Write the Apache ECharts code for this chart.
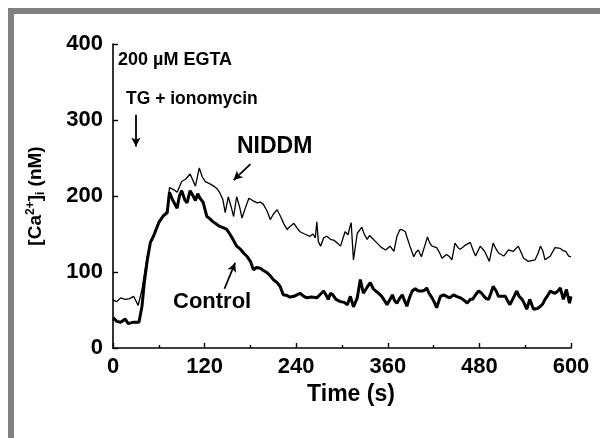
<!DOCTYPE html>
<html>
<head>
<meta charset="utf-8">
<script src="https://cdn.jsdelivr.net/npm/echarts@6/dist/echarts.min.js"></script>
<style>
  html, body { margin: 0; padding: 0; background: #fff; }
  #chart { width: 600px; height: 438px; }
</style>
</head>
<body>
<div id="chart"></div>
<script>
// time (s) and [Ca2+]i (nM)
const niddmT = [0, 5, 10, 16, 22, 27, 33, 38, 42, 45, 49, 53, 60, 66, 71, 74, 80, 84, 90, 95, 101, 108, 113, 117, 121, 127, 132, 136, 140, 144, 147, 151, 155, 158, 162, 166, 169, 174, 178, 183, 189, 193, 197, 202, 206, 210, 215, 220, 224, 228, 232, 237, 241, 245, 251, 258, 262, 265, 267, 269, 272, 276, 280, 285, 289, 294, 298, 304, 308, 310, 312, 315, 320, 326, 329, 333, 336, 339, 344, 348, 352, 357, 363, 368, 372, 376, 380, 383, 386, 389, 394, 397, 400, 404, 408, 412, 415, 418, 424, 428, 431, 437, 441, 444, 448, 452, 455, 461, 468, 472, 475, 481, 487, 493, 498, 502, 505, 512, 518, 524, 531, 535, 538, 544, 553, 557, 560, 563, 566, 573, 579, 586, 590, 593, 597, 600];
const niddmV = [63, 61, 66, 64, 65, 68, 56, 77, 103, 121, 139, 147, 167, 175, 180, 211, 208, 205, 219, 222, 229, 213, 237, 225, 219, 216, 213, 210, 204, 195, 178, 199, 185, 173, 199, 185, 171, 186, 197, 194, 191, 192, 189, 180, 169, 176, 182, 172, 163, 156, 160, 164, 158, 153, 150, 147, 150, 145, 166, 140, 134, 145, 147, 143, 142, 138, 134, 153, 149, 158, 165, 116, 151, 159, 150, 143, 148, 145, 140, 136, 132, 129, 134, 127, 147, 156, 155, 153, 143, 134, 120, 126, 129, 120, 133, 146, 138, 134, 132, 125, 118, 123, 120, 116, 138, 132, 130, 135, 139, 128, 121, 134, 127, 114, 138, 130, 125, 121, 129, 127, 134, 125, 118, 114, 116, 125, 134, 128, 116, 121, 132, 131, 128, 127, 121, 120];

const controlT = [0, 5, 10, 16, 20, 27, 34, 38, 41, 45, 49, 53, 60, 66, 71, 74, 78, 84, 87, 90, 94, 97, 101, 105, 108, 111, 114, 118, 123, 127, 130, 134, 137, 140, 145, 149, 153, 156, 162, 167, 171, 176, 180, 184, 188, 193, 197, 202, 206, 210, 215, 219, 223, 228, 232, 237, 241, 245, 250, 254, 260, 267, 271, 276, 280, 282, 285, 288, 292, 298, 303, 307, 311, 315, 320, 324, 328, 333, 337, 341, 344, 348, 352, 356, 359, 363, 366, 369, 372, 376, 379, 382, 385, 388, 392, 396, 400, 405, 408, 411, 414, 418, 421, 424, 429, 433, 437, 441, 446, 450, 455, 458, 461, 464, 468, 471, 475, 479, 483, 486, 489, 492, 495, 498, 502, 505, 510, 514, 517, 520, 524, 529, 532, 536, 539, 542, 546, 549, 551, 556, 560, 563, 566, 570, 573, 576, 579, 583, 586, 590, 594, 598, 600];
const controlV = [40, 35, 34, 38, 32, 34, 34, 55, 86, 116, 139, 147, 165, 174, 178, 205, 195, 184, 200, 207, 195, 191, 207, 200, 194, 203, 197, 192, 173, 170, 167, 164, 162, 160, 158, 156, 150, 145, 134, 130, 125, 120, 114, 103, 106, 105, 102, 99, 95, 90, 86, 81, 70, 69, 67, 68, 70, 72, 68, 66, 67, 66, 70, 75, 68, 64, 72, 70, 64, 61, 60, 57, 68, 54, 66, 90, 72, 80, 86, 78, 75, 72, 68, 62, 57, 64, 70, 62, 59, 66, 70, 62, 55, 65, 75, 78, 75, 75, 76, 79, 72, 66, 60, 53, 68, 70, 68, 66, 70, 68, 66, 64, 62, 59, 64, 64, 70, 75, 72, 68, 65, 64, 72, 81, 75, 68, 68, 68, 62, 57, 65, 75, 68, 64, 58, 51, 64, 56, 51, 52, 55, 58, 64, 70, 75, 73, 72, 75, 79, 64, 77, 59, 68];

const xTicks = { min: 0, max: 600, step: 120 };
const yTicks = { min: 0, max: 400, step: 100 };

// annotation arrows, [from, to] in data coordinates
const tgArrow = [[30, 307], [30, 265]];
const niddmArrow = [[180, 242], [158, 221]];
const controlArrow = [[146, 78], [160, 112]];

const font = '"Liberation Sans", Arial, Helvetica, sans-serif';

const toPairs = (t, v) => t.map((x, i) => [x, v[i]]);
const arrowLine = a => [{ coord: a[0] }, { coord: a[1] }];

const chart = echarts.init(document.getElementById('chart'));

chart.setOption({
  backgroundColor: '#fff',
  animation: false,
  grid: { left: 113, right: 29, top: 44, bottom: 90 },
  xAxis: {
    type: 'value',
    min: xTicks.min,
    max: xTicks.max,
    interval: xTicks.step,
    name: 'Time (s)',
    nameLocation: 'middle',
    nameGap: 34,
    nameTextStyle: { color: '#000', fontFamily: font, fontWeight: 'bold', fontSize: 23, padding: [0, 0, 0, 18] },
    axisLine: { lineStyle: { color: '#000', width: 1.6 } },
    axisTick: { inside: true, length: 5, lineStyle: { color: '#000', width: 1.4 } },
    minorTick: { show: true, splitNumber: 2, length: 3, lineStyle: { color: '#000', width: 1.4 } },
    axisLabel: { color: '#000', fontFamily: font, fontWeight: 'bold', fontSize: 22, margin: 8 },
    splitLine: { show: false }
  },
  yAxis: {
    type: 'value',
    min: yTicks.min,
    max: yTicks.max,
    interval: yTicks.step,
    name: '[Ca{sup|2+}]{sub|i} (nM)',
    nameLocation: 'middle',
    nameGap: 66,
    nameTextStyle: {
      color: '#000', fontFamily: font, fontWeight: 'bold', fontSize: 19,
      rich: {
        sup: { fontFamily: font, fontWeight: 'bold', fontSize: 12, verticalAlign: 'top', lineHeight: 22 },
        sub: { fontFamily: font, fontWeight: 'bold', fontSize: 12, verticalAlign: 'bottom', lineHeight: 22 }
      }
    },
    axisLine: { show: true, lineStyle: { color: '#000', width: 1.6 } },
    axisTick: { show: true, inside: true, length: 5, lineStyle: { color: '#000', width: 1.4 } },
    axisLabel: { color: '#000', fontFamily: font, fontWeight: 'bold', fontSize: 22, margin: 10 },
    splitLine: { show: false }
  },
  series: [
    {
      name: 'Control',
      type: 'line',
      data: toPairs(controlT, controlV),
      showSymbol: false,
      lineStyle: { color: '#000', width: 3 },
      itemStyle: { color: '#000' },
      markLine: {
        silent: true,
        symbol: ['none', 'arrow'],
        symbolSize: [7, 9],
        label: { show: false },
        lineStyle: { color: '#000', width: 1.8, type: 'solid' },
        data: [arrowLine(tgArrow), arrowLine(niddmArrow), arrowLine(controlArrow)]
      }
    },
    {
      name: 'NIDDM',
      type: 'line',
      data: toPairs(niddmT, niddmV),
      showSymbol: false,
      lineStyle: { color: '#000', width: 1.3 },
      itemStyle: { color: '#000' }
    }
  ],
  graphic: [
    // grey frame
    { type: 'rect', shape: { x: 8, y: 8, width: 592, height: 6 }, style: { fill: '#808080' } },
    { type: 'rect', shape: { x: 8, y: 8, width: 6, height: 430 }, style: { fill: '#808080' } },
    { type: 'text', left: 118, top: 51, style: { text: '200 \u00b5M EGTA', font: 'bold 18px ' + font, fill: '#000' } },
    { type: 'text', left: 126, top: 90, style: { text: 'TG + ionomycin', font: 'bold 17.5px ' + font, fill: '#000' } },
    { type: 'text', left: 237, top: 135, style: { text: 'NIDDM', font: 'bold 23px ' + font, fill: '#000' } },
    { type: 'text', left: 173, top: 291, style: { text: 'Control', font: 'bold 22px ' + font, fill: '#000' } }
  ]
});
</script>
</body>
</html>
